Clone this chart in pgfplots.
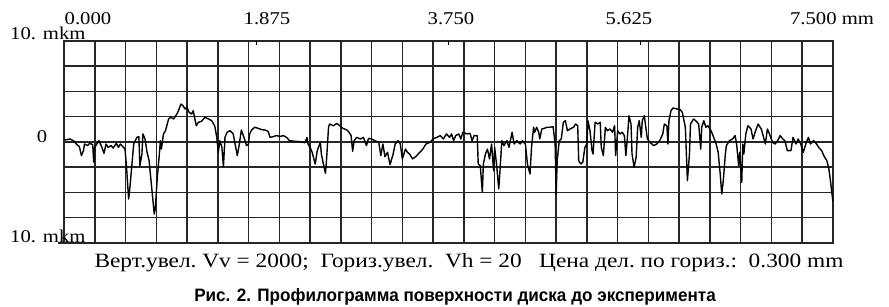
\documentclass[border=0pt]{standalone}
\usepackage{fontspec}
\setmainfont{Liberation Serif}
\newfontfamily\serifw[FakeStretch=1.15]{Liberation Serif}
\newfontfamily\capfont[FakeStretch=0.95]{Liberation Sans}
\usepackage{pgfplots}
\pgfplotsset{compat=1.18}
\begin{document}
\begin{tikzpicture}[x=1pt,y=1pt]
\path[use as bounding box] (0,0) rectangle (889,307);
\begin{axis}[
  at={(64pt,64pt)}, anchor=south west,
  scale only axis, width=769pt, height=202pt,
  xmin=0, xmax=7.5, ymin=-10, ymax=10,
  xtick distance=0.3, ytick distance=2.5,
  xticklabels={}, yticklabels={},
  major tick length=0pt,
  xtick pos=upper, ytick pos=left,
  grid=major,
  grid style={black!85, line width=1.5pt},
  axis line style={black!85, line width=1.6pt},
  extra x ticks={1.875,3.75,5.625},
  extra x tick labels={},
  extra x tick style={grid=none, major tick length=4pt, tick style={black, line width=0.8pt}},
]
\addplot[black, line width=1.4pt, line join=round] coordinates {
(0.01,0.2) (0.06,0.3) (0.10,0.07) (0.12,-0.2) (0.15,-0.46) (0.17,-1.35) (0.19,-0.86) (0.20,-0.2)
(0.23,-0.36) (0.25,-0.13) (0.28,-0.26) (0.29,-2.0) (0.30,-0.53) (0.32,-0.2) (0.34,0.13) (0.37,-0.53)
(0.39,-1.12) (0.41,-0.2) (0.43,-0.53) (0.46,-0.36) (0.48,-0.6) (0.51,-0.13) (0.53,-0.53) (0.55,-0.2)
(0.58,-0.53) (0.595,-0.7) (0.61,-2.5) (0.63,-5.64) (0.64,-4.8) (0.66,-2.5) (0.68,-0.2) (0.71,0.46)
(0.73,0.53) (0.74,-2.35) (0.76,-1.19) (0.77,0.8) (0.79,0.3) (0.81,-1.02) (0.83,-1.85) (0.855,-4.49)
(0.88,-7.13) (0.89,-6.63) (0.91,-3.5) (0.93,-1.19) (0.94,0.13) (0.95,-0.7) (0.97,0.8) (0.99,1.12)
(1.02,2.28) (1.04,2.44) (1.07,2.28) (1.09,2.6) (1.11,2.94) (1.14,3.76) (1.16,3.6) (1.18,3.27)
(1.20,3.43) (1.22,2.94) (1.245,2.77) (1.26,3.1) (1.29,1.61) (1.31,1.95) (1.34,2.04) (1.375,2.44)
(1.41,2.28) (1.44,2.11) (1.47,1.6) (1.49,0.46) (1.505,-1.02) (1.52,0.13) (1.54,-0.53) (1.555,-2.44)
(1.57,0.46) (1.59,0.96) (1.62,1.12) (1.65,0.8) (1.675,-0.53) (1.69,-1.35) (1.71,-0.2) (1.73,1.19)
(1.76,0.3) (1.78,-0.36) (1.80,-0.2) (1.81,0.8) (1.83,1.19) (1.86,1.46) (1.895,1.35) (1.93,1.22)
(1.96,1.19) (1.99,1.06) (2.01,0.46) (2.04,0.53) (2.07,0.63) (2.11,0.56) (2.14,0.63) (2.17,0.46)
(2.20,0.13) (2.25,0.07) (2.30,0.03) (2.35,-0.07) (2.37,0.46) (2.38,-0.2) (2.40,-0.53) (2.42,-1.02)
(2.45,-2.18) (2.47,-0.86) (2.50,-0.03) (2.51,-1.19) (2.53,-2.18) (2.55,-3.1) (2.56,-1.85) (2.58,1.46)
(2.59,1.78) (2.63,1.61) (2.66,1.85) (2.69,1.61) (2.72,1.35) (2.76,1.19) (2.78,0.96) (2.80,0.63)
(2.815,-0.92) (2.83,0.13) (2.855,0.46) (2.89,0.3) (2.92,0.46) (2.95,-0.36) (2.97,0.36) (3.00,0.3)
(3.03,0.13) (3.07,-0.03) (3.09,-1.35) (3.11,-0.2) (3.13,-1.45) (3.155,-1.02) (3.18,-2.24) (3.21,-1.19)
(3.23,-0.2) (3.26,0.13) (3.28,-0.2) (3.30,-1.68) (3.33,-0.7) (3.35,-1.02) (3.37,-1.19) (3.40,-1.68)
(3.43,-1.45) (3.47,-1.02) (3.50,-0.7) (3.53,-0.2) (3.57,-0.03) (3.60,0.3) (3.635,0.46) (3.67,0.63)
(3.70,0.3) (3.73,0.8) (3.76,0.46) (3.78,0.8) (3.80,0.13) (3.82,0.63) (3.85,0.8) (3.87,0.3)
(3.89,0.96) (3.93,0.8) (3.96,0.86) (3.98,0.13) (4.00,0.63) (4.03,0.63) (4.04,-2.18) (4.06,-2.35)
(4.08,-4.98) (4.09,-2.18) (4.11,-1.19) (4.13,-0.7) (4.15,-1.68) (4.17,-0.2) (4.19,-2.84) (4.20,-0.53)
(4.22,-2.35) (4.24,-4.65) (4.25,-3.17) (4.27,0.13) (4.29,-0.36) (4.32,0.13) (4.34,-0.53) (4.37,0.96)
(4.39,-0.2) (4.415,0.13) (4.45,-0.2) (4.47,0.13) (4.50,-0.2) (4.52,-2.2) (4.545,-3.17) (4.56,-0.53)
(4.58,1.46) (4.59,0.96) (4.61,1.46) (4.63,0.96) (4.64,0.3) (4.66,1.29) (4.685,1.35) (4.71,1.46)
(4.74,1.46) (4.77,1.52) (4.79,-0.2) (4.80,-5.15) (4.81,-1.85) (4.83,0.13) (4.85,0.3) (4.87,1.95)
(4.89,2.11) (4.91,1.12) (4.935,1.29) (4.97,1.46) (4.99,1.78) (5.01,1.61) (5.02,-1.85) (5.04,-2.18)
(5.06,-2.0) (5.08,-0.53) (5.10,-0.2) (5.11,2.11) (5.13,1.12) (5.15,-0.86) (5.16,-1.19) (5.18,1.95)
(5.205,1.78) (5.23,1.95) (5.24,-0.53) (5.26,-1.35) (5.28,1.46) (5.30,1.12) (5.325,1.29) (5.35,0.96)
(5.37,1.61) (5.38,-1.35) (5.40,1.12) (5.42,0.8) (5.445,0.96) (5.465,0.63) (5.48,-1.35) (5.50,1.12)
(5.51,2.6) (5.53,1.78) (5.54,-1.19) (5.56,-2.5) (5.58,-1.52) (5.595,1.46) (5.61,2.11) (5.63,0.46)
(5.64,2.11) (5.66,2.6) (5.67,1.78) (5.69,0.3) (5.715,-0.03) (5.75,-0.36) (5.78,-0.2) (5.81,0.13)
(5.84,0.8) (5.855,1.78) (5.88,1.61) (5.89,-0.2) (5.90,2.11) (5.92,3.1) (5.94,3.37) (5.98,3.27)
(6.01,3.2) (6.03,2.94) (6.06,1.46) (6.07,-1.19) (6.08,-3.83) (6.10,-1.19) (6.11,1.78) (6.14,2.28)
(6.16,2.11) (6.19,1.78) (6.21,-0.7) (6.22,1.46) (6.24,2.11) (6.26,1.46) (6.28,1.61) (6.31,1.12)
(6.33,0.63) (6.36,-0.2) (6.38,-1.02) (6.40,-3.17) (6.415,-5.15) (6.43,-3.83) (6.45,-1.19) (6.46,-0.36)
(6.49,0.13) (6.52,0.3) (6.545,0.63) (6.56,-0.2) (6.58,-2.35) (6.59,-1.02) (6.61,-3.99) (6.62,-0.2)
(6.63,-1.19) (6.65,0.8) (6.67,1.61) (6.70,1.29) (6.72,0.3) (6.745,1.12) (6.77,1.78) (6.80,1.29)
(6.81,0.96) (6.84,-0.2) (6.86,1.29) (6.88,0.8) (6.91,-0.03) (6.935,-0.2) (6.96,0.13) (6.985,0.63)
(7.01,0.3) (7.03,0.13) (7.055,-0.86) (7.09,-0.86) (7.11,0.46) (7.14,-0.2) (7.16,0.3) (7.185,-0.2)
(7.21,-1.02) (7.24,-0.03) (7.26,0.46) (7.28,-0.2) (7.31,0.13) (7.34,-0.2) (7.36,-0.53) (7.39,-0.86)
(7.41,-1.35) (7.44,-1.85) (7.46,-2.67) (7.475,-3.83) (7.49,-5.15) (7.50,-5.9)
};
\end{axis}
\begin{scope}[every node/.style={inner sep=0pt, font=\serifw\fontsize{18}{20}\selectfont}]
\node at (88,288) {0.000};
\node at (267,288) {1.875};
\node at (451,288) {3.750};
\node at (629,288) {5.625};
\node at (832,288) {7.500 mm};
\node[anchor=base west] at (10,267) {10. mkm};
\node at (42,170) {0};
\node[anchor=base west] at (10,64) {10. mkm};
\draw[black!85, line width=1.5pt] (58,64) -- (64,64);
\node[anchor=base, font=\serifw\fontsize{20.3}{22}\selectfont] at (469,39) {Верт.увел.\ Vv = 2000;\ \ Гориз.увел.\ \ Vh = 20\ \ \ Цена дел.\ по гориз.:\ \ 0.300 mm};
\end{scope}
\node[inner sep=0pt, font=\capfont\bfseries\fontsize{18}{20}\selectfont] at (455,10) {Рис. 2. Профилограмма поверхности диска до эксперимента};
\end{tikzpicture}
\end{document}
